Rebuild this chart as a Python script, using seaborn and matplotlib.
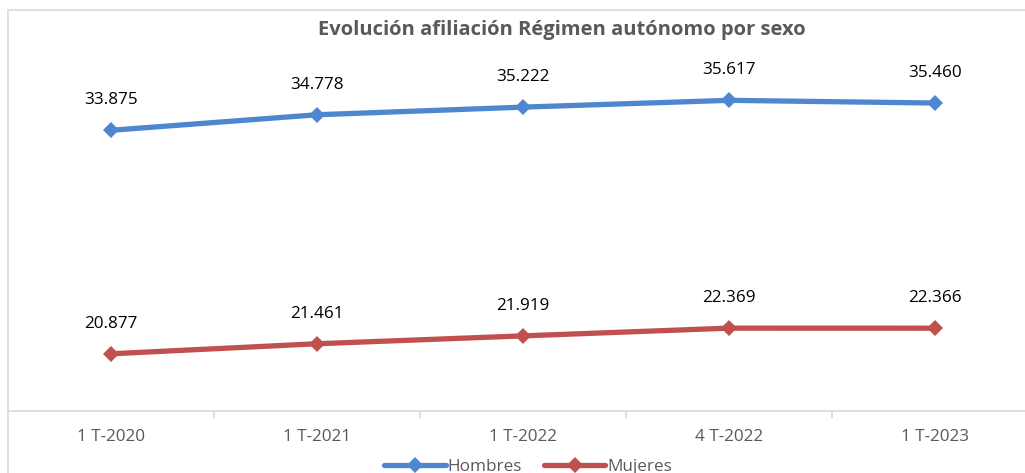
import seaborn as sns
import matplotlib.pyplot as plt
import pandas as pd
from matplotlib.patches import Rectangle

periodos = ["1 T-2020", "1 T-2021", "1 T-2022", "4 T-2022", "1 T-2023"]
hombres = [33875, 34778, 35222, 35617, 35460]
mujeres = [20877, 21461, 21919, 22369, 22366]

df = pd.DataFrame({
    "periodo": periodos * 2,
    "valor": hombres + mujeres,
    "sexo": ["Hombres"] * 5 + ["Mujeres"] * 5,
})

sns.set_theme(style="white")
plt.rcParams["font.family"] = ["Open Sans", "DejaVu Sans"]

fig = plt.figure(figsize=(10.25, 4.73), dpi=100)
ax = fig.add_axes([8 / 1025, 62 / 473, 1030 / 1025, 385 / 473])

colores = {"Hombres": "#4F86D0", "Mujeres": "#C0504D"}
sns.lineplot(data=df, x="periodo", y="valor", hue="sexo", palette=colores,
             marker="D", markersize=8, linewidth=3.8, markeredgewidth=0,
             ax=ax, legend=True)

# etiquetas de datos
for serie in [hombres, mujeres]:
    for i, v in enumerate(serie):
        ax.annotate(f"{v:,}".replace(",", "."), (i, v), xytext=(0, 16),
                    textcoords="offset points", ha="center", va="bottom",
                    fontsize=12.3, color="black")

ax.set_xlim(-0.5, 4.5)
ax.set_ylim(17550, 39940)
ax.set_xlabel("")
ax.set_ylabel("")
ax.set_yticks([])
for s in ["top", "right", "left"]:
    ax.spines[s].set_visible(False)
ax.spines["bottom"].set_color("#D9D9D9")
ax.spines["bottom"].set_linewidth(1.2)
ax.set_xticks(range(5))
ax.set_xticklabels(periodos)
ax.set_xticks([0.5, 1.5, 2.5, 3.5], minor=True)
ax.tick_params(axis="x", which="major", length=0, pad=13, labelsize=12.3,
               labelcolor="#595959")
ax.tick_params(axis="x", which="minor", length=5, width=1.2, color="#D9D9D9",
               bottom=True)

handles, labels = ax.get_legend_handles_labels()
ax.get_legend().remove()
fig.legend(handles, labels, loc="center", bbox_to_anchor=(528 / 1025, 6 / 473),
           ncol=2, frameon=False, fontsize=12.3, handlelength=3.6,
           columnspacing=1.3, handletextpad=0.1, labelcolor="#595959")

fig.text(562 / 1025, 1 - 30 / 473, "Evolución afiliación Régimen autónomo por sexo",
         ha="center", va="center", fontsize=14.5, fontweight="bold", color="#595959")

fig.patches.append(Rectangle((8 / 1025, -0.1), 1.2, 1 - 10 / 473 + 0.1,
                             transform=fig.transFigure, fill=False,
                             edgecolor="#D9D9D9", linewidth=1.2))

fig.savefig("out.png", dpi=100)
